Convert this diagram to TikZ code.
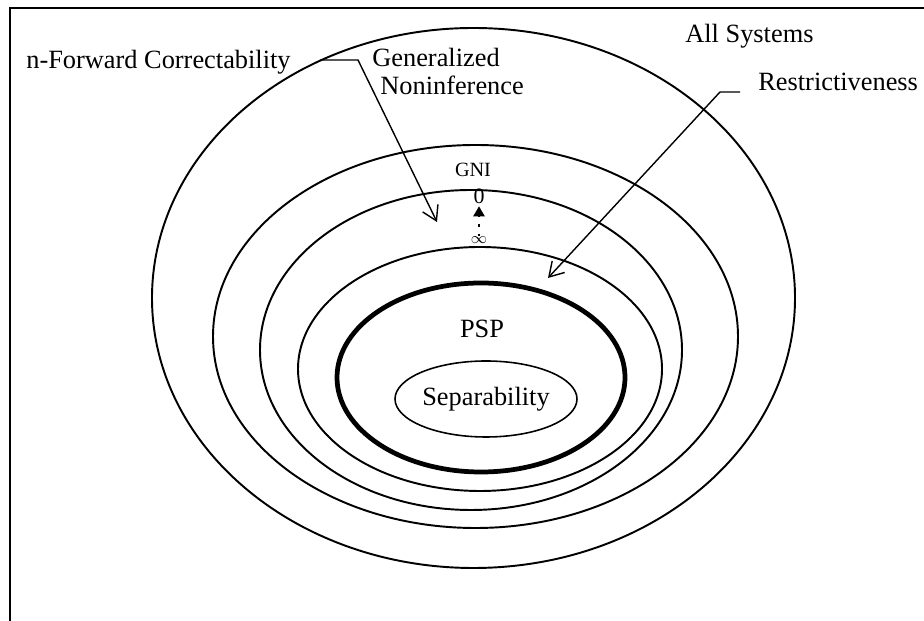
\documentclass[tikz,border=0pt]{standalone}
\usepackage{fontspec}
\setmainfont{Liberation Serif}
\usetikzlibrary{arrows.meta,shapes.geometric}

\tikzset{
    setname/.style={inner sep=0pt, font=\fontsize{15}{16}\selectfont},
    pointer/.style={black, line width=0.8pt, -{Straight Barb[length=0.28cm,width=0.34cm]}},
    bound/.style={black, line width=1.1pt},
}

\begin{document}
\begin{tikzpicture}
        \useasboundingbox (0,0) rectangle (18.48,12.42);
        \draw [black, line width=1pt] (0.2,0) -- (0.2,12.26) -- (18.48,12.26);

        % the nested classes
        \foreach \cx/\cy/\rx/\ry in {9.47/6.46/6.43/5.40, 9.51/5.69/5.25/3.83, 9.42/5.42/4.22/3.20, 9.60/5.04/3.64/2.44} {
            \draw [bound] (\cx,\cy) ellipse ({\rx} and {\ry});
        }
        \draw [black, line width=2.7pt] (9.62,4.87) ellipse (2.88 and 1.89);
        \node [draw, ellipse, line width=0.9pt, inner sep=0pt, minimum width=3.64cm, minimum height=1.52cm, font=\fontsize{15}{16}\selectfont] (sep) at (9.72,4.44) {Separability};
        \node [setname, anchor=base] (psp) at (9.64,5.66) {PSP};

        % labels
        \node [setname, anchor=base west] (nfc) at (0.52,11.04) {n-Forward Correctability};
        \node [setname, anchor=north west, align=left] (gennon) at (7.44,11.46) {Generalized\\\hspace{0.16cm}Noninference};
        \node [setname, anchor=base west] (allsys) at (13.70,11.56) {All Systems};
        \node [setname, anchor=base west] (restr) at (15.16,10.60) {Restrictiveness};

        \node [anchor=base, inner sep=0pt, font=\fontsize{11.5}{12}\selectfont] (gni) at (9.46,8.88) {GNI};
        \node [inner sep=0pt, font=\fontsize{12.5}{13}\selectfont] (zero) at (9.58,8.50) {0};
        \node [inner sep=0pt, font=\fontsize{9}{10}\selectfont] (inf) at (9.58,7.62) {$\infty$};
        \draw [black, line width=1.2pt, dash pattern=on 1.5pt off 4pt, -{Triangle[length=0.2cm,width=0.22cm]}] (inf.north) -- ([yshift=-0.05cm]zero.south);

        % leaders
        \coordinate (nfcstart) at (6.40,11.22);
        \coordinate (nfcbend) at (7.16,11.22);
        \coordinate (nfctip) at (8.74,7.98);
        \draw [pointer] (nfcstart) -- (nfcbend) -- (nfctip);
        \coordinate (restrbend) at (14.40,10.58);
        \coordinate (restrtip) at (10.96,6.86);
        \draw [pointer] ([xshift=-0.36cm]restr.west |- restrbend) -- (restrbend) -- (restrtip);
\end{tikzpicture}
\end{document}
